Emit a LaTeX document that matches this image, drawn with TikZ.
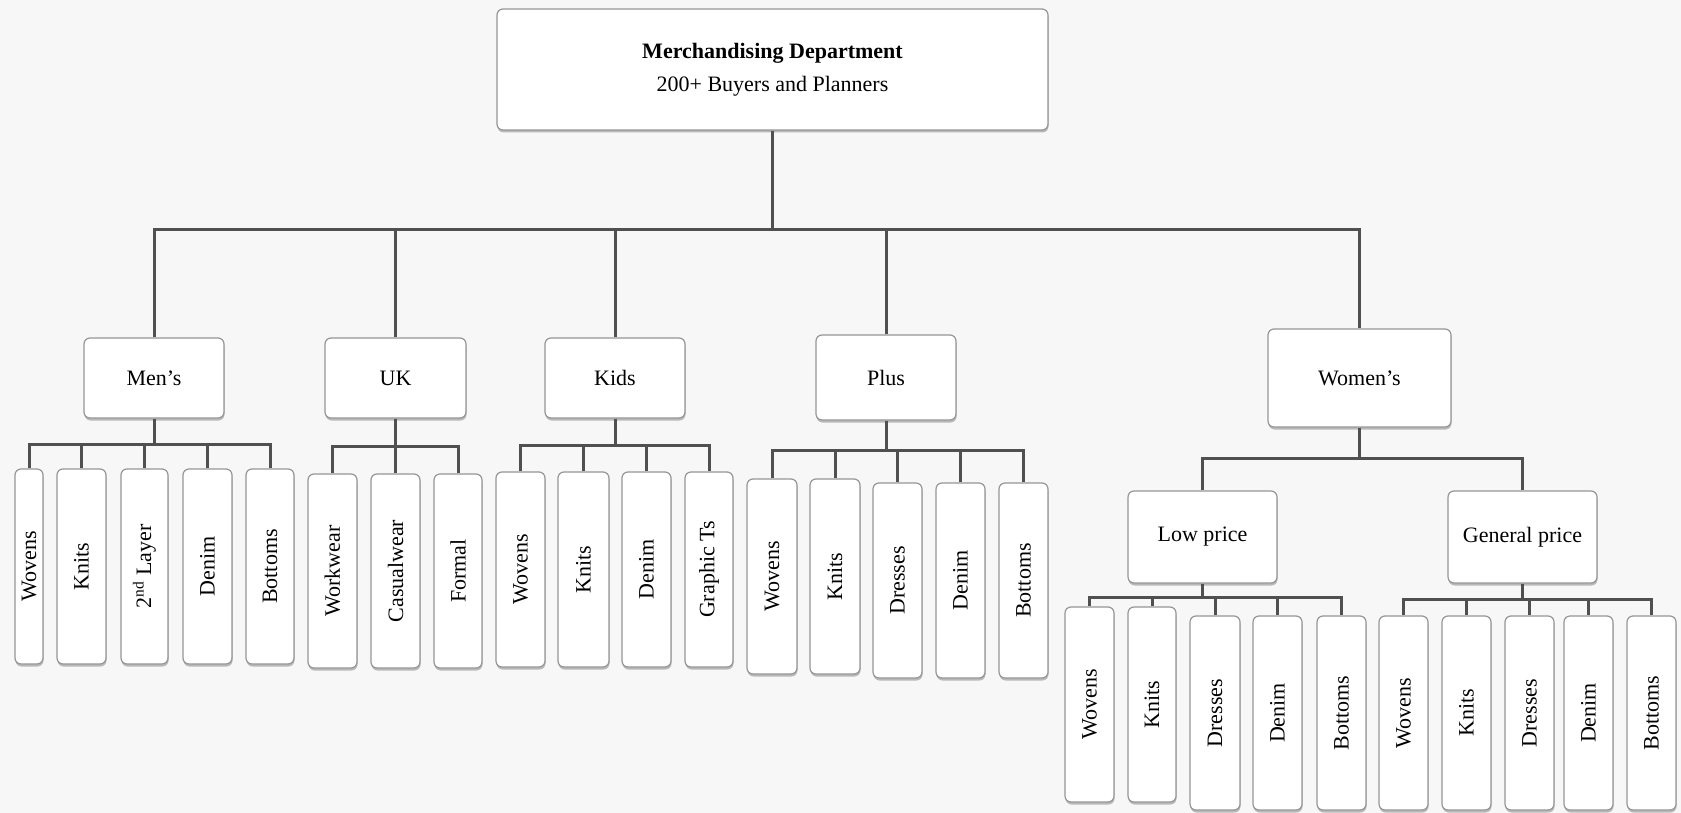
\documentclass[tikz,border=0pt]{standalone}
\usepackage{fontspec}
\setmainfont{Liberation Serif}
\usetikzlibrary{shadows}
\definecolor{linecol}{RGB}{80,80,80}
\definecolor{boxline}{RGB}{150,150,150}
\definecolor{bgcol}{RGB}{248,247,247}
\tikzset{
  box/.style={draw=boxline, line width=1.2pt, fill=white, rounded corners=6pt,
    inner sep=0pt, align=center, font=\fontsize{22}{26}\selectfont,
    drop shadow={shadow xshift=0.5pt, shadow yshift=-2.5pt, opacity=0.25, fill=black}},
  conn/.style={draw=linecol, line width=3pt, line join=miter}
}
\newcommand\bx[6]{\node[box,minimum width={(#4-#2)*1pt},minimum height={(#5-#3)*1pt}] (#1) at ({(#2+#4)/2},{(#3+#5)/2}) {#6};}
\newcommand\vx[6]{\node[box,minimum width={(#4-#2)*1pt},minimum height={(#5-#3)*1pt}] (#1) at ({(#2+#4)/2},{(#3+#5)/2}) {\rotatebox{90}{#6}};}
\begin{document}
\begin{tikzpicture}[x=1pt,y=-1pt]
\useasboundingbox (0,0) rectangle (1681,813);
\fill[bgcol] (0,0) rectangle (1681,813);
% top
\node[box,minimum width=551pt,minimum height=121pt,font=\fontsize{22}{33}\selectfont] (top) at (772.5,69.5) {\textbf{Merchandising Department}\\200+ Buyers and Planners};
% level 1
\bx{men}{84}{338}{224}{418}{Men’s}
\bx{uk}{325}{338}{466}{418}{UK}
\bx{kids}{545}{338}{685}{418}{Kids}
\bx{plus}{816}{335}{956}{420}{Plus}
\bx{women}{1268}{329}{1451}{427}{Women’s}
\bx{low}{1128}{491}{1277}{583}{Low price}
\bx{gen}{1448}{491}{1597}{583}{General price}
% Men's children
\vx{mw}{15}{469}{43}{664}{Wovens}
\vx{mk}{57}{469}{106}{664}{Knits}
\vx{ml}{121}{469}{168}{664}{2\textsuperscript{nd} Layer}
\vx{md}{183}{469}{232}{664}{Denim}
\vx{mb}{246}{469}{294}{664}{Bottoms}
% UK children
\vx{uw}{308}{474}{357}{668}{Workwear}
\vx{uc}{371}{474}{420}{668}{Casualwear}
\vx{uf}{434}{474}{482}{668}{Formal}
% Kids children
\vx{kw}{496}{472}{545}{667}{Wovens}
\vx{kk}{558}{472}{609}{667}{Knits}
\vx{kd}{622}{472}{671}{667}{Denim}
\vx{kg}{685}{472}{733}{667}{Graphic Ts}
% Plus children
\vx{pw}{747}{479}{797}{674}{Wovens}
\vx{pk}{810}{479}{860}{674}{Knits}
\vx{pd}{873}{483}{922}{678}{Dresses}
\vx{pn}{936}{483}{985}{678}{Denim}
\vx{pb}{999}{483}{1048}{678}{Bottoms}
% Low price children
\vx{lw}{1065}{607}{1114}{802}{Wovens}
\vx{lk}{1128}{607}{1176}{802}{Knits}
\vx{ld}{1190}{616}{1240}{810}{Dresses}
\vx{ln}{1253}{616}{1302}{810}{Denim}
\vx{lb}{1317}{616}{1366}{810}{Bottoms}
% General price children
\vx{gw}{1379}{616}{1428}{810}{Wovens}
\vx{gk}{1442}{616}{1491}{810}{Knits}
\vx{gd}{1505}{616}{1554}{810}{Dresses}
\vx{gn}{1564}{616}{1613}{810}{Denim}
\vx{gb}{1627}{616}{1676}{810}{Bottoms}
% bar coordinates
\coordinate (topbar) at (772.5,230);
\coordinate (menbar) at (154,444);
\coordinate (ukbar) at (395.5,446);
\coordinate (kidsbar) at (615,445);
\coordinate (plusbar) at (886,450);
\coordinate (womenbar) at (1359.5,458);
\coordinate (lowbar) at (1202.5,597);
\coordinate (genbar) at (1522.5,599);
% connectors
\draw[conn] (top.south) -- (topbar);
\foreach \c in {men,uk,kids,plus,women} \draw[conn] (topbar) -| (\c.north);
\draw[conn] (men.south) -- (menbar);
\foreach \c in {mw,mk,ml,md,mb} \draw[conn] (menbar) -| (\c.north);
\draw[conn] (uk.south) -- (ukbar);
\foreach \c in {uw,uc,uf} \draw[conn] (ukbar) -| (\c.north);
\draw[conn] (kids.south) -- (kidsbar);
\foreach \c in {kw,kk,kd,kg} \draw[conn] (kidsbar) -| (\c.north);
\draw[conn] (plus.south) -- (plusbar);
\foreach \c in {pw,pk,pd,pn,pb} \draw[conn] (plusbar) -| (\c.north);
\draw[conn] (women.south) -- (womenbar);
\foreach \c in {low,gen} \draw[conn] (womenbar) -| (\c.north);
\draw[conn] (low.south) -- (lowbar);
\foreach \c in {lw,lk,ld,ln,lb} \draw[conn] (lowbar) -| (\c.north);
\draw[conn] (gen.south) -- (genbar);
\foreach \c in {gw,gk,gd,gn,gb} \draw[conn] (genbar) -| (\c.north);
\end{tikzpicture}
\end{document}
